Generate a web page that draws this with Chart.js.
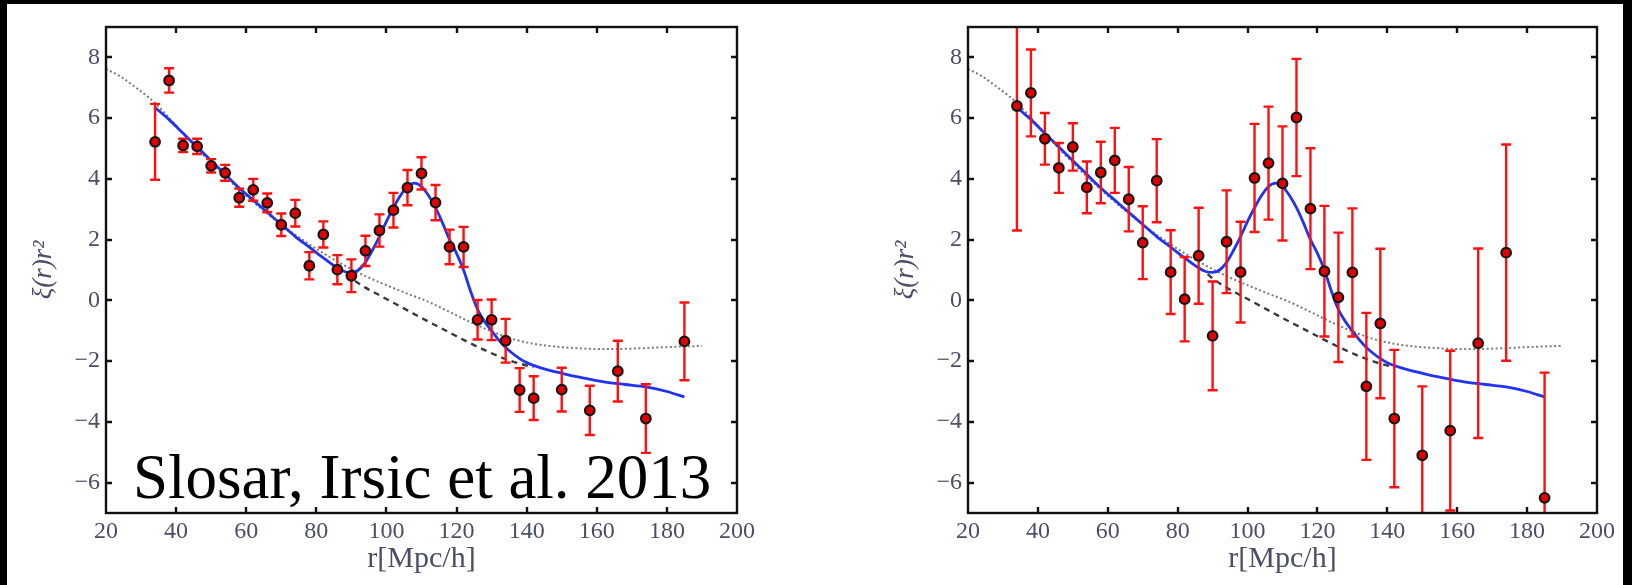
<!DOCTYPE html>
<html><head><meta charset="utf-8">
<script src="https://cdn.jsdelivr.net/npm/chart.js@4"></script>
<style>
html,body{margin:0;padding:0;background:#fff;}
body{width:1632px;height:585px;position:relative;overflow:hidden;}
.blk{position:absolute;background:#000;}
.wrap{position:absolute;top:0;height:585px;}
#note{position:absolute;left:133px;top:446px;font-family:"Liberation Serif",serif;font-size:63px;line-height:63px;color:#000;white-space:nowrap;}
</style></head><body>
<div class="blk" style="left:0;top:0;width:1632px;height:4px"></div>
<div class="blk" style="left:0;top:0;width:7px;height:585px"></div>
<div class="blk" style="left:1623px;top:0;width:9px;height:585px"></div>
<div class="wrap" style="left:0;width:816px"><canvas id="c1" width="816" height="585"></canvas></div>
<div class="wrap" style="left:862px;width:770px"><canvas id="c2" width="770" height="585"></canvas></div>
<div id="note">Slosar, Irsic et al. 2013</div>
<script>
// ---- data ----
const rBins = [34,38,42,46,50,54,58,62,66,70,74,78,82,86,90,94,98,102,106,110,114,118,122,126,130,134,138,142,150,158,166,174,185];
const leftXi  = [5.22,7.24,5.10,5.07,4.43,4.20,3.38,3.64,3.21,2.49,2.87,1.14,2.17,1.01,0.81,1.63,2.30,2.97,3.71,4.18,3.22,1.76,1.76,-0.64,-0.64,-1.33,-2.95,-3.22,-2.94,-3.62,-2.33,-3.89,-1.35];
const leftErr = [1.25,0.40,0.22,0.25,0.22,0.26,0.30,0.36,0.31,0.37,0.44,0.45,0.43,0.48,0.54,0.50,0.53,0.57,0.58,0.53,0.58,0.57,0.66,0.65,0.67,0.72,0.72,0.72,0.72,0.81,1.00,1.13,1.28];
const rightXi  = [6.40,6.83,5.32,4.36,5.05,3.72,4.21,4.61,3.33,1.90,3.94,0.93,0.04,1.47,-1.17,1.93,0.93,4.03,4.52,3.85,6.02,3.02,0.96,0.10,0.92,-2.83,-0.76,-3.89,-5.10,-4.29,-1.41,1.57,-6.50];
const rightErr = [4.10,1.43,0.85,0.82,0.78,0.85,1.01,1.07,1.06,1.20,1.37,1.38,1.39,1.58,1.79,1.69,1.66,1.78,1.86,1.88,1.93,1.99,2.15,2.13,2.11,2.42,2.46,2.26,2.27,2.63,3.12,3.56,4.12];

// best-fit model (blue)
const modelR  = [34,38,42,46,50,54,58,62,66,70,74,78,82,86,88,90,92,94,96,98,100,102,104,106,108,110,112,114,116,118,120,122,124,126,128,130,132,134,136,138,140,144,150,156,162,168,174,180,185];
const modelXi = [6.35,5.95,5.5,5.05,4.6,4.15,3.7,3.3,2.9,2.5,2.1,1.75,1.4,1.07,0.95,0.92,1.0,1.25,1.65,2.1,2.6,3.05,3.45,3.75,3.86,3.75,3.45,3.05,2.55,2.0,1.55,1.0,0.3,-0.3,-0.7,-1.0,-1.3,-1.55,-1.75,-1.92,-2.05,-2.22,-2.4,-2.55,-2.68,-2.77,-2.85,-3.0,-3.18];
// no-wiggle model (dashed)
const nwR  = [86,88,90,94,98,102,106,110,114,118,122,126,130,134,138,142];
const nwXi = [1.07,0.92,0.72,0.42,0.17,-0.08,-0.33,-0.58,-0.82,-1.06,-1.3,-1.53,-1.74,-1.93,-2.08,-2.2];
// linear model (dotted)
const linR  = [20,24,28,32,34,40,46,52,58,64,70,76,82,88,94,100,106,112,118,124,130,136,142,148,154,160,166,172,178,184,190];
const linXi = [7.62,7.38,7.05,6.7,6.5,5.75,5.0,4.3,3.65,3.05,2.5,2.0,1.55,1.15,0.8,0.5,0.22,-0.05,-0.38,-0.72,-1.02,-1.27,-1.43,-1.52,-1.57,-1.6,-1.6,-1.58,-1.55,-1.52,-1.5];

const xTicks = [20,40,60,80,100,120,140,160,180,200];
const yTicks = [-6,-4,-2,0,2,4,6,8];
const xTitle = 'r[Mpc/h]';
const yTitle = 'ξ(r)r²';

// ---- plugins ----
const errPlugin = {
  id: 'errbars',
  beforeDatasetDraw(chart, args) {
    const ds = chart.data.datasets[args.index];
    if (!ds.errors) return;
    const {ctx, chartArea: a, scales: {x, y}} = chart;
    ctx.save();
    ctx.beginPath(); ctx.rect(a.left, a.top, a.right - a.left, a.bottom - a.top); ctx.clip();
    ctx.strokeStyle = '#ff1010'; ctx.lineWidth = 2.4;
    ds.data.forEach((p, i) => {
      const e = ds.errors[i];
      const px = x.getPixelForValue(p.x);
      const y1 = y.getPixelForValue(p.y + e), y2 = y.getPixelForValue(p.y - e);
      ctx.beginPath();
      ctx.moveTo(px, y1); ctx.lineTo(px, y2);
      ctx.moveTo(px - 5, y1); ctx.lineTo(px + 5, y1);
      ctx.moveTo(px - 5, y2); ctx.lineTo(px + 5, y2);
      ctx.stroke();
    });
    ctx.restore();
  }
};
const framePlugin = {
  id: 'frame',
  afterDatasetsDraw(chart) {
    const {ctx, chartArea: a, scales: {x, y}} = chart;
    ctx.save();
    ctx.strokeStyle = '#111'; ctx.lineWidth = 2.4;
    ctx.strokeRect(a.left, a.top, a.right - a.left, a.bottom - a.top);
    ctx.beginPath();
    x.ticks.forEach(t => {
      if (t.value <= x.min || t.value >= x.max) return;
      const px = Math.round(x.getPixelForValue(t.value));
      ctx.moveTo(px, a.bottom); ctx.lineTo(px, a.bottom - 6);
      ctx.moveTo(px, a.top); ctx.lineTo(px, a.top + 6);
    });
    y.ticks.forEach(t => {
      if (t.value <= y.min || t.value >= y.max) return;
      const py = Math.round(y.getPixelForValue(t.value));
      ctx.moveTo(a.left, py); ctx.lineTo(a.left + 6, py);
      ctx.moveTo(a.right, py); ctx.lineTo(a.right - 6, py);
    });
    ctx.stroke();
    ctx.restore();
  }
};

const serif = '"Liberation Serif", "DejaVu Serif", serif';
const labelColor = '#4a4e68';

function pts(xs, ys) { return xs.map((v, i) => ({x: v, y: ys[i]})); }

function makeChart(id, vals, errs, padRight) {
  return new Chart(document.getElementById(id), {
    type: 'scatter',
    data: {
      datasets: [
        {label: 'data', data: pts(rBins, vals), errors: errs, pointRadius: 4.8,
         pointBackgroundColor: '#e00000', pointBorderColor: '#161616', pointBorderWidth: 2.2, order: 0},
        {type: 'line', label: 'model', data: pts(modelR, modelXi), borderColor: '#2233f0', borderWidth: 2.8,
         pointRadius: 0, cubicInterpolationMode: 'monotone', fill: false, order: 1},
        {type: 'line', label: 'no wiggle', data: pts(nwR, nwXi), borderColor: '#3a3a3a', borderWidth: 2.4,
         borderDash: [6, 5], pointRadius: 0, cubicInterpolationMode: 'monotone', fill: false, order: 2},
        {type: 'line', label: 'linear', data: pts(linR, linXi), borderColor: '#7a7a7a', borderWidth: 2,
         borderDash: [2, 2.5], pointRadius: 0, cubicInterpolationMode: 'monotone', fill: false, order: 3}
      ]
    },
    options: {
      responsive: false, animation: false, devicePixelRatio: 1,
      layout: {padding: {left: 0, right: padRight, top: 27, bottom: 0}},
      plugins: {legend: {display: false}, tooltip: {enabled: false}},
      scales: {
        x: {
          type: 'linear', min: 20, max: 200,
          afterBuildTicks: s => { s.ticks = xTicks.map(v => ({value: v})); },
          afterFit: s => { s.height = 72; },
          grid: {display: false, drawTicks: false}, border: {display: false},
          ticks: {font: {family: serif, size: 24}, color: labelColor, padding: 4, maxRotation: 0, autoSkip: false},
          title: {display: true, text: xTitle, font: {family: serif, size: 30}, color: labelColor, padding: {top: 0, bottom: 8}}
        },
        y: {
          type: 'linear', min: -7, max: 9,
          afterBuildTicks: s => { s.ticks = yTicks.map(v => ({value: v})); },
          afterFit: s => { s.width = 106; },
          grid: {display: false, drawTicks: false}, border: {display: false},
          ticks: {font: {family: serif, size: 24}, color: labelColor, padding: 6, autoSkip: false,
                  callback: v => v < 0 ? '\u2212' + Math.abs(v) : String(v)},
          title: {display: true, text: yTitle, font: {family: serif, size: 27, style: 'italic'}, color: labelColor, padding: {top: 28, bottom: 0}}
        }
      }
    },
    plugins: [errPlugin, framePlugin]
  });
}

makeChart('c1', leftXi, leftErr, 79);
makeChart('c2', rightXi, rightErr, 35);
</script>
</body></html>
